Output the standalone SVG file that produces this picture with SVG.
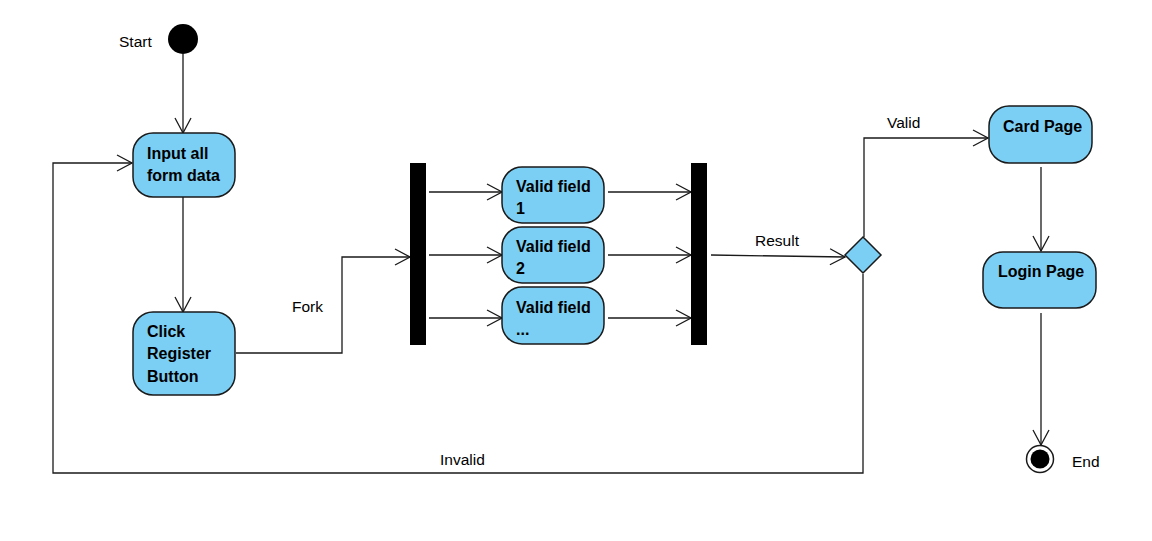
<svg xmlns="http://www.w3.org/2000/svg" width="1152" height="541" viewBox="0 0 1152 541">
<defs>
<style>
.box{fill:#7bcff4;stroke:#1a1a1a;stroke-width:1.5}
.bar{fill:#000}
.t{font-family:"Liberation Sans",Arial,sans-serif;font-size:16px;font-weight:bold;fill:#000}
.l{font-family:"Liberation Sans",Arial,sans-serif;font-size:15.5px;fill:#000}
.c{fill:none;stroke:#1a1a1a;stroke-width:1.3;marker-end:url(#arr)}
</style>
<marker id="arr" viewBox="0 0 17 18" refX="16" refY="9" markerWidth="17" markerHeight="18" markerUnits="userSpaceOnUse" orient="auto">
<path d="M1,1 L16,9 L1,17" fill="none" stroke="#1a1a1a" stroke-width="1.3"/>
</marker>
</defs>
<rect width="1152" height="541" fill="#fff"/>
<g id="connectors">
<path class="c" d="M183,54 V133"/>
<path class="c" d="M183,197 V312"/>
<path class="c" d="M236,353 H342 V257 H410"/>
<path class="c" d="M429,192 H502"/>
<path class="c" d="M429,255 H502"/>
<path class="c" d="M429,318 H502"/>
<path class="c" d="M608,192 H691"/>
<path class="c" d="M608,255 H691"/>
<path class="c" d="M608,318 H691"/>
<path class="c" d="M711,255 L845,257"/>
<path class="c" d="M864,237 V138 H988"/>
<path class="c" d="M863,274 V473 H53 V163 H132"/>
<path class="c" d="M1041,167 V251"/>
<path class="c" d="M1041,313 V445"/>
</g>
<g id="labels">
<text class="l" x="119" y="47">Start</text>
<text class="l" x="292" y="312">Fork</text>
<text class="l" x="755" y="246">Result</text>
<text class="l" x="887" y="128">Valid</text>
<text class="l" x="440" y="465">Invalid</text>
<text class="l" x="1072" y="467">End</text>
</g>
<g id="start"><circle cx="183" cy="39" r="15" fill="#000"/></g>
<g id="input">
<rect class="box" x="133" y="133" width="102" height="64" rx="20"/>
<text class="t" x="147" y="159">Input all</text>
<text class="t" x="147" y="181">form data</text>
</g>
<g id="click">
<rect class="box" x="133" y="312" width="102" height="83" rx="20"/>
<text class="t" x="147" y="337">Click</text>
<text class="t" x="147" y="359">Register</text>
<text class="t" x="147" y="382">Button</text>
</g>
<g id="fork"><rect class="bar" x="410" y="163" width="16" height="182"/></g>
<g id="field1">
<rect class="box" x="502" y="167" width="102" height="56" rx="20"/>
<text class="t" x="516" y="192">Valid field</text>
<text class="t" x="516" y="214">1</text>
</g>
<g id="field2">
<rect class="box" x="502" y="227" width="102" height="56" rx="20"/>
<text class="t" x="516" y="252">Valid field</text>
<text class="t" x="516" y="274">2</text>
</g>
<g id="field3">
<rect class="box" x="502" y="287" width="102" height="57" rx="20"/>
<text class="t" x="516" y="313">Valid field</text>
<text class="t" x="516" y="335">...</text>
</g>
<g id="join"><rect class="bar" x="691" y="163" width="16" height="182"/></g>
<g id="decision"><path class="box" d="M863,237 L881,255 L863,273 L845,255 Z"/></g>
<g id="card">
<rect class="box" x="989" y="106" width="103" height="57" rx="20"/>
<text class="t" x="1003" y="132">Card Page</text>
</g>
<g id="login">
<rect class="box" x="983" y="252" width="113" height="56" rx="20"/>
<text class="t" x="998" y="277">Login Page</text>
</g>
<g id="end">
<circle cx="1040" cy="459" r="13.5" fill="#fff" stroke="#1a1a1a" stroke-width="1.5"/>
<circle cx="1040" cy="459" r="9.5" fill="#000"/>
</g>
</svg>
